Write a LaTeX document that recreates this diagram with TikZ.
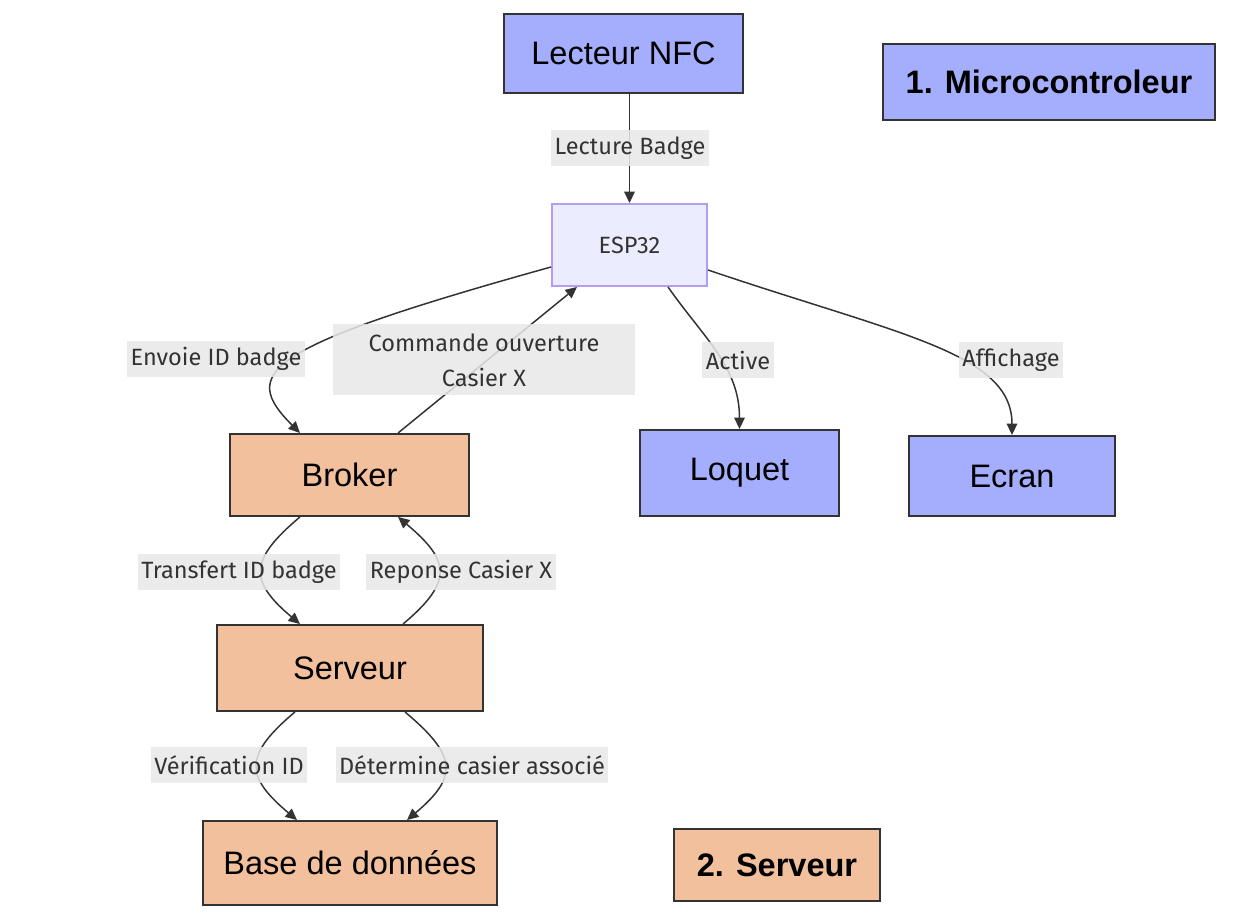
\documentclass[tikz,border=0pt]{standalone}
\usepackage{fontspec}
\setmainfont{Liberation Sans}
\newfontfamily\lblfont{Fira Sans}
\usetikzlibrary{arrows.meta, calc}
\definecolor{micro}{HTML}{A4AEFC}
\definecolor{serv}{HTML}{F2C09C}
\definecolor{espfill}{HTML}{ECECFF}
\definecolor{espdraw}{HTML}{B39DF0}
\definecolor{lblbg}{HTML}{E8E8E8}
\definecolor{ink}{HTML}{333333}

\begin{document}
\begin{tikzpicture}[x=0.02cm, y=0.02cm,
    >={Triangle[length=6.5pt, width=6pt]},
    box/.style={draw=ink, line width=1.1pt, inner sep=0pt, font=\fontsize{18.5}{22}\selectfont},
    microbox/.style={box, fill=micro},
    servbox/.style={box, fill=serv},
    lbl/.style={fill=lblbg, fill opacity=0.85, text opacity=1, text=ink, inner xsep=2pt,
      inner ysep=0pt, minimum height=0.72cm, align=center, font=\lblfont\fontsize{13.4}{20}\selectfont},
    link/.style={draw=ink, line width=0.85pt, ->}
  ]
    \useasboundingbox (0,0) rectangle (1245,913);

    % noeuds
    \node[microbox, minimum width=4.78cm, minimum height=1.58cm] (nfc) at (623.5,859.5) {Lecteur NFC};
    \node[box, fill=espfill, draw=espdraw, minimum width=3.1cm, minimum height=1.64cm,
      font=\lblfont\fontsize{13.4}{15}\selectfont, text=ink] (esp) at (629.5,668) {ESP32};
    \node[servbox, minimum width=4.78cm, minimum height=1.64cm] (brk) at (349.5,438) {Broker};
    \node[microbox, minimum width=3.98cm, minimum height=1.72cm] (loq) at (739.5,440) {Loquet};
    \node[microbox, minimum width=4.12cm, minimum height=1.6cm] (ecr) at (1012,437) {Ecran};
    \node[servbox, minimum width=5.32cm, minimum height=1.72cm] (srv) at (350,245) {Serveur};
    \node[servbox, minimum width=5.88cm, minimum height=1.68cm] (bdd) at (350,50) {Base de données};

    % legende
    \node[microbox, minimum width=6.64cm, minimum height=1.52cm, font=\fontsize{18.5}{22}\selectfont\bfseries]
      (mcu) at (1049,831) {1. Microcontroleur};
    \node[servbox, minimum width=4.12cm, minimum height=1.44cm, font=\fontsize{18.5}{22}\selectfont\bfseries]
      (srvk) at (777,48) {2. Serveur};

    % liens
    \draw[link] (nfc.south -| esp.north) -- (esp.north);
    \draw[link] ($(esp.west)+(0,-22)$) .. controls (260,565) and (240,540) .. ($(brk.north)+(-49.5,0)$);
    \draw[link] ($(brk.north)+(48.5,0)$) -- ($(esp.south)+(-52.5,0)$);
    \draw[link] ($(esp.south)+(38.5,0)$) to[out=-55, in=90] (loq.north);
    \draw[link] ($(esp.east)+(0,-25)$) .. controls (900,578) and (1012,560) .. (ecr.north);
    \draw[link] ($(brk.south)+(-49.5,0)$) to[out=-140, in=140, looseness=1.6] ($(srv.north)+(-50,0)$);
    \draw[link] ($(srv.north)+(53,0)$) to[out=40, in=-40, looseness=1.6] ($(brk.south)+(48.5,0)$);
    \draw[link] ($(srv.south)+(-55,0)$) to[out=-140, in=140, looseness=1.6] ($(bdd.north)+(-53,0)$);
    \draw[link] ($(srv.south)+(55,0)$) to[out=-40, in=40, looseness=1.6] ($(bdd.north)+(57,0)$);

    % etiquettes
    \node[lbl] (lLect) at (630,765) {Lecture Badge};
    \node[lbl] (lEnv) at (216,554) {Envoie ID badge};
    \node[lbl, minimum width=6.04cm, minimum height=1.42cm] (lCmd) at (484,553) {Commande ouverture\\Casier X};
    \node[lbl] (lAct) at (738,553) {Active};
    \node[lbl] (lAff) at (1011,553) {Affichage};
    \node[lbl] (lTrf) at (239,341) {Transfert ID badge};
    \node[lbl] (lRep) at (461,341) {Reponse Casier X};
    \node[lbl] (lVer) at (229,148) {Vérification ID};
    \node[lbl] (lDet) at (472,148) {Détermine casier associé};
\end{tikzpicture}
\end{document}
